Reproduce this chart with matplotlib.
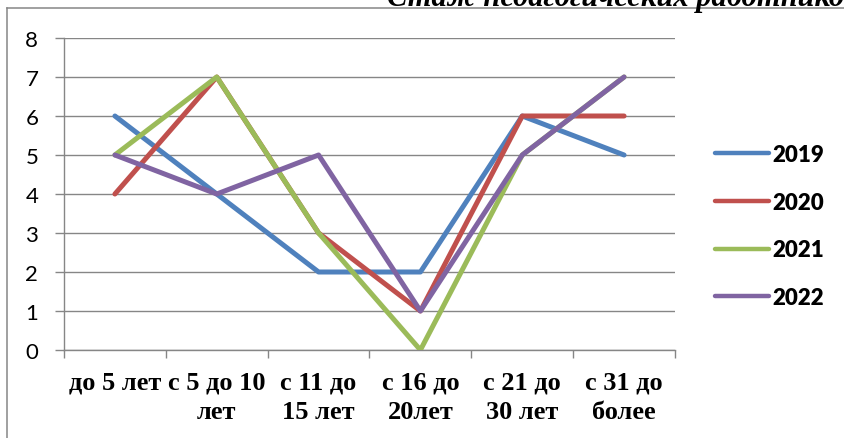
import matplotlib
matplotlib.use("Agg")
import matplotlib.pyplot as plt
from matplotlib.lines import Line2D

categories = ["до 5 лет", "с 5 до 10\nлет", "с 11 до\n15 лет", "с 16 до\n20лет", "с 21 до\n30 лет", "с 31 до\nболее"]
series_names = ["2019", "2020", "2021", "2022"]
v2019 = [6, 4, 2, 2, 6, 5]
v2020 = [4, 7, 3, 1, 6, 6]
v2021 = [5, 7, 3, 0, 5, 7]
v2022 = [5, 4, 5, 1, 5, 7]
yticks = [0, 1, 2, 3, 4, 5, 6, 7, 8]
title = "Стаж педагогических работников"

colors = ["#4F81BD", "#C0504D", "#9BBB59", "#8064A2"]
gray = "#868686"

W, H = 845, 439
fig = plt.figure(figsize=(W / 100, H / 100), dpi=100)
ax = fig.add_axes([64 / W, (H - 351) / H, (675 - 64) / W, (351 - 39) / H])

x = [i + 0.5 for i in range(len(categories))]
for name, vals, c in zip(series_names, [v2019, v2020, v2021, v2022], colors):
    ax.plot(x, vals, color=c, lw=3.6, label=name,
            solid_capstyle="round", solid_joinstyle="round", zorder=3)

ax.set_xlim(0, len(categories))
ax.set_ylim(0, 8)
ax.set_yticks(yticks)
ax.set_yticklabels([str(v) for v in yticks], fontfamily="Lato", fontsize=16)
ax.yaxis.grid(True, color=gray, lw=1.0)
ax.set_axisbelow(True)

ax.set_xticks(x)
ax.set_xticklabels(categories, fontfamily="Liberation Serif", fontweight="bold",
                   fontsize=19, linespacing=1.33)
ax.set_xticks(range(len(categories) + 1), minor=True)
ax.tick_params(axis="x", which="major", length=0, pad=15)
ax.tick_params(axis="x", which="minor", length=6, width=1.0, color=gray)
ax.tick_params(axis="y", length=6.5, width=1.0, color=gray, pad=12)

for s in ["top", "right"]:
    ax.spines[s].set_visible(False)
for s in ["left", "bottom"]:
    ax.spines[s].set_color(gray)
    ax.spines[s].set_linewidth(1.0)

# outer chart frame (cropped by the picture edges)
fig.add_artist(Line2D([7 / W, 7 / W], [1 - 9 / H, 0], transform=fig.transFigure, color=gray, lw=1.1))
fig.add_artist(Line2D([7 / W, 1], [1 - 9 / H, 1 - 9 / H], transform=fig.transFigure, color=gray, lw=1.1))

fig.text(387 / W, 1 - 6 / H, title, fontfamily="Liberation Serif", fontweight="bold",
         fontstyle="italic", fontsize=22, va="baseline", ha="left")

leg = ax.legend(loc="center left", bbox_to_anchor=(715 / W, 1 - 227 / H),
                bbox_transform=fig.transFigure, frameon=False, borderpad=0,
                borderaxespad=0, handlelength=2.45, handletextpad=0.15,
                labelspacing=1.2, prop={"family": "Lato", "weight": "heavy", "size": 16})
for h in leg.get_lines():
    h.set_linewidth(3.2)
    h.set_solid_capstyle("round")

fig.savefig("out.png", dpi=100)
